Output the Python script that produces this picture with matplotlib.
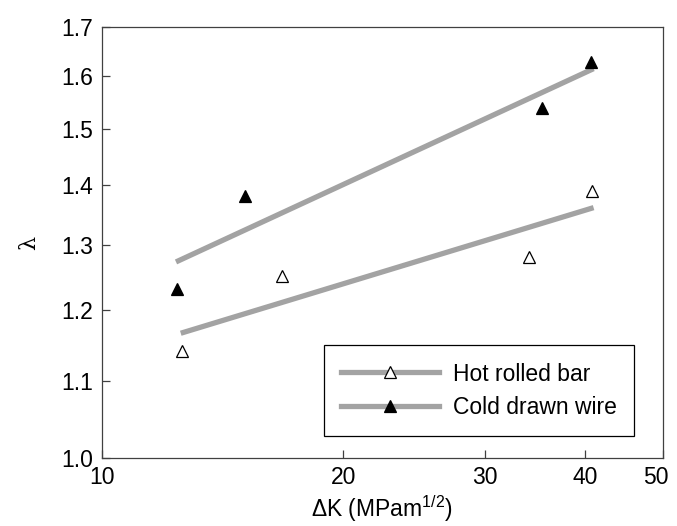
import matplotlib
matplotlib.use('Agg')
from matplotlib import pyplot as plt
from matplotlib import transforms

plt.rcParams['font.family'] = ['Liberation Sans', 'DejaVu Sans']
plt.rcParams['mathtext.default'] = 'regular'

# Measured points:
hot_dk = [12.6, 16.8, 34.1, 40.8]
hot_lam = [1.141, 1.251, 1.281, 1.389]
cold_dk = [12.4, 15.1, 35.4, 40.7]
cold_lam = [1.231, 1.380, 1.539, 1.628]

# Fitted lines (end points):
hot_fit_dk = [12.55, 41.0]
hot_fit_lam = [1.166, 1.361]
cold_fit_dk = [12.38, 41.0]
cold_fit_lam = [1.273, 1.615]

# Ticks:
x_ticks = [10, 20, 30, 40, 50]
y_ticks = [1.0, 1.1, 1.2, 1.3, 1.4, 1.5, 1.6, 1.7]

lineColour = '#a3a3a3'
spineColour = '#404040'
fs = 16.5

figure = plt.figure(figsize=(6.77, 5.26), dpi=100)
ax = figure.add_axes([0.150, 0.1293, 0.829, 0.8194])

ax.plot(hot_fit_dk, hot_fit_lam, color=lineColour, linewidth=3.8, solid_capstyle='butt')
ax.plot(cold_fit_dk, cold_fit_lam, color=lineColour, linewidth=3.8, solid_capstyle='butt')
ax.plot(hot_dk, hot_lam, linestyle='none', marker='^', markersize=8,
        markerfacecolor='white', markeredgecolor='black', markeredgewidth=0.9)
ax.plot(cold_dk, cold_lam, linestyle='none', marker='^', markersize=8,
        markerfacecolor='black', markeredgecolor='black', markeredgewidth=0.9)

# Legend handles: grey line with a marker in the middle
h1, = ax.plot([], [], color=lineColour, linewidth=3.8, marker='^', markersize=8,
              markerfacecolor='white', markeredgecolor='black', markeredgewidth=0.9)
h2, = ax.plot([], [], color=lineColour, linewidth=3.8, marker='^', markersize=8,
              markerfacecolor='black', markeredgecolor='black', markeredgewidth=0.9)
leg = ax.legend([h1, h2], ['Hot rolled bar', 'Cold drawn wire'], loc='lower right',
                bbox_to_anchor=(0.949, 0.051), borderaxespad=0, fontsize=fs,
                handlelength=4.3, handletextpad=0.6, borderpad=0.75, labelspacing=0.45,
                fancybox=False, framealpha=1, edgecolor='black', numpoints=1)
leg.get_frame().set_linewidth(0.9)

ax.set_xscale('log')
ax.set_yscale('log')
ax.set_xlim(10, 50)
ax.set_ylim(1.0, 1.7)
ax.set_xticks(x_ticks, labels=[str(v) for v in x_ticks])
ax.set_yticks(y_ticks, labels=['%.1f' % v for v in y_ticks])
ax.minorticks_off()
ax.tick_params(direction='in', length=6, width=0.9, color=spineColour,
               labelsize=fs, top=False, right=False, pad=6)

# last x label sits a little left of its tick in the original
lbl = ax.get_xticklabels()[-1]
lbl.set_transform(lbl.get_transform() + transforms.ScaledTranslation(-7/100, 0, figure.dpi_scale_trans))

for s in ax.spines.values():
    s.set_color(spineColour)
    s.set_linewidth(0.9)

ax.set_xlabel('\u0394K (MPam$^{1/2}$)', fontsize=fs, labelpad=3)
ax.set_ylabel('\u03bb', fontsize=16, family='DejaVu Serif', labelpad=15)

plt.savefig('out.png', dpi=100)
plt.close()
